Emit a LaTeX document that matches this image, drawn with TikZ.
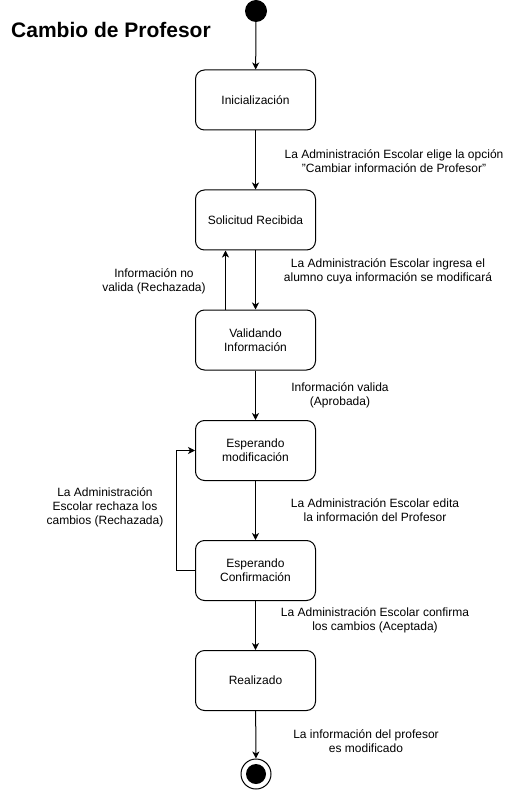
\documentclass[tikz,border=0pt]{standalone}
\usepackage{fontspec}
\setmainfont{Liberation Sans}
\usetikzlibrary{arrows.meta}
\begin{document}
\begin{tikzpicture}[x=1pt,y=-1pt,
  state/.style={draw,line width=1pt,rounded corners=9pt,minimum width=120pt,minimum height=60pt,align=center,font=\fontsize{12}{14}\selectfont,inner sep=0pt},
  lbl/.style={align=center,font=\fontsize{12}{14}\selectfont,inner sep=0pt},
  arr/.style={line width=1pt,-{Stealth[length=7pt,width=7pt,inset=2pt]}}]
\useasboundingbox[fill=white] (0,0) rectangle (510,791);
\node[font=\bfseries\fontsize{21}{25}\selectfont,anchor=west,inner sep=0pt] (title) at (11,30) {Cambio de Profesor};
\node[circle,fill=black,minimum size=22pt,inner sep=0pt] (start) at (256,11) {};
\node[state] (ini) at (255.5,100) {Inicialización};
\node[state] (sol) at (255.5,220) {Solicitud Recibida};
\node[state] (val) at (255.5,340) {Validando\\Información};
\node[state] (mod) at (255.5,450.5) {Esperando\\modificación};
\node[state] (conf) at (255.5,570.5) {Esperando\\Confirmación};
\node[state] (real) at (255.5,680.5) {Realizado};
\node[circle,draw,line width=1pt,minimum size=30pt,inner sep=0pt] (end) at (256,774) {};
\node[circle,fill=black,minimum size=20pt,inner sep=0pt] (endin) at (256,774) {};
\draw[arr] (start) -- (ini);
\draw[arr] (ini) -- (sol);
\draw[arr] (sol) -- (val);
\coordinate (bx) at (225.5,0);
\draw[arr] (val.north -| bx) -- (sol.south -| bx);
\draw[arr] (val) -- (mod);
\draw[arr] (mod) -- (conf);
\coordinate (lp) at (176,0);
\draw[arr] (conf.west) -- (conf.west -| lp) -- (mod.west -| lp) -- (mod.west);
\draw[arr] (conf) -- (real);
\draw[arr] (real) -- (end);
\node[lbl] (l1) at (394,161.5) {La Administración Escolar elige la opción\\"Cambiar información de Profesor"};
\node[lbl] (l2) at (154,281) {Información no\\valida (Rechazada)};
\node[lbl] (l3) at (388,271.5) {La Administración Escolar ingresa el\\alumno cuya información se modificará};
\node[lbl] (l4) at (340,395) {Información valida\\(Aprobada)};
\node[lbl] (l5) at (375,510) {La Administración Escolar edita\\la información del Profesor};
\node[lbl] (l6) at (105,507.5) {La Administración\\Escolar rechaza los\\cambios (Rechazada)};
\node[lbl] (l7) at (375,620.5) {La Administración Escolar confirma\\los cambios (Aceptada)};
\node[lbl] (l8) at (366,741) {La información del profesor\\es modificado};
\end{tikzpicture}
\end{document}
